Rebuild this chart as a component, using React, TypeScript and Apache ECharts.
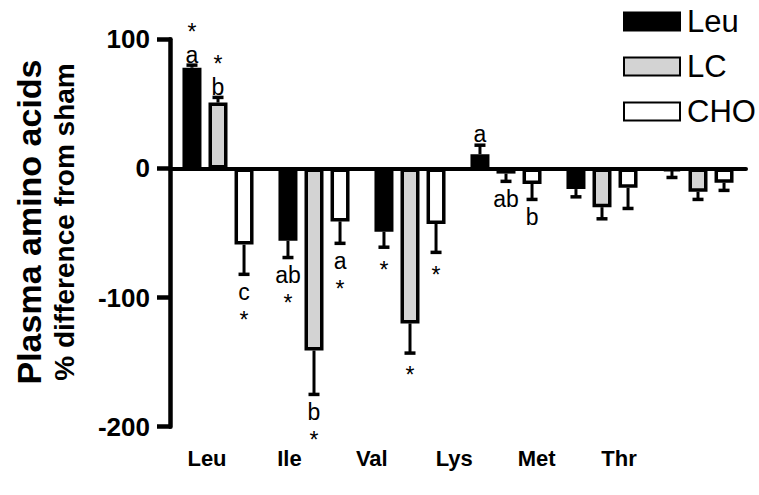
import React, { useEffect, useRef } from 'react';
import * as echarts from 'echarts';

const categories = ['Leu', 'Ile', 'Val', 'Lys', 'Met', 'Thr'];
const seriesNames = ['Leu', 'LC', 'CHO'];
const leuMean = [78, -56, -49, 11, -16, -2];
const leuErr = [2, 13, 12, 7, 6, 5];
const lcMean = [51, -141, -120, -4, -30, -18];
const lcErr = [4, 34, 23, 6, 9, 6];
const choMean = [-59, -41, -43, -12, -15, -11];
const choErr = [23, 17, 22, 12, 16, 6];
const leuLetters = ['a', 'ab', '', 'a', '', ''];
const lcLetters = ['b', 'b', '', 'ab', '', ''];
const choLetters = ['c', 'a', '', 'b', '', ''];
const leuStars = [1, 1, 1, 0, 0, 0];
const lcStars = [1, 1, 1, 0, 0, 0];
const choStars = [1, 1, 1, 0, 0, 0];
const yMin = -200;
const yMax = 100;
const yInterval = 100;
const yTitle1 = 'Plasma amino acids';
const yTitle2 = '% difference from sham';

const FONT = "'Liberation Sans', Arial, sans-serif";
const BAR_W = 19;
const BAR_GAP = 0.37;
const BAR_STEP = BAR_W * (1 + BAR_GAP);
const colors = ['#000000', '#d3d3d3', '#ffffff'];

function errSeries(k: number, mean: number[], err: number[], letters: string[], stars: number[]) {
  return {
    type: 'custom',
    xAxisIndex: 0,
    yAxisIndex: 0,
    z: 5,
    silent: true,
    data: mean.map((m, i) => [i, m, err[i]]),
    encode: { x: 0, y: 1 },
    renderItem: (params: any, api: any) => {
      const idx = params.dataIndex;
      const i = api.value(0);
      const m = api.value(1);
      const e = api.value(2);
      const dir = m >= 0 ? 1 : -1;
      const base = api.coord([i, m]);
      const end = api.coord([i, m + dir * e]);
      const x = base[0] + (k - 1) * BAR_STEP;
      const children: any[] = [
        { type: 'line', shape: { x1: x, y1: base[1], x2: x, y2: end[1] }, style: { stroke: '#000', lineWidth: 3 } },
        { type: 'line', shape: { x1: x - 5.5, y1: end[1], x2: x + 5.5, y2: end[1] }, style: { stroke: '#000', lineWidth: 3.5 } },
      ];
      const letter = letters[idx];
      const star = stars[idx];
      const ts = { fill: '#000', fontSize: 23, fontFamily: FONT, align: 'center', verticalAlign: 'middle' };
      if (dir > 0) {
        if (letter && star) {
          children.push({ type: 'text', x, y: end[1] - 10, style: { ...ts, lineHeight: 23, text: letter } });
          children.push({ type: 'text', x, y: end[1] - 33.5, style: { ...ts, lineHeight: 23, text: '*' } });
        } else if (letter) {
          children.push({ type: 'text', x, y: end[1] - 11, style: { ...ts, lineHeight: 23, text: letter } });
        } else if (star) {
          children.push({ type: 'text', x, y: end[1] - 10, style: { ...ts, lineHeight: 23, text: '*' } });
        }
      } else {
        if (letter && star) {
          children.push({ type: 'text', x, y: end[1] + 17.6, style: { ...ts, lineHeight: 23, text: letter } });
          children.push({ type: 'text', x, y: end[1] + 45.5, style: { ...ts, lineHeight: 23, text: '*' } });
        } else if (letter) {
          children.push({ type: 'text', x, y: end[1] + 17.6, style: { ...ts, lineHeight: 23, text: letter } });
        } else if (star) {
          children.push({ type: 'text', x, y: end[1] + 22.4, style: { ...ts, lineHeight: 23, text: '*' } });
        }
      }
      return { type: 'group', children };
    },
  };
}

function barSeries(k: number, data: number[]) {
  return {
    name: seriesNames[k],
    type: 'bar',
    xAxisIndex: 0,
    yAxisIndex: 0,
    data,
    barWidth: BAR_W,
    barGap: `${BAR_GAP * 100}%`,
    itemStyle: { color: colors[k], borderColor: '#000', borderWidth: 3.5 },
    z: 3,
  };
}

export default function App() {
  const ref = useRef<HTMLDivElement>(null);
  useEffect(() => {
    document.body.style.margin = '0';
    const chart = echarts.init(ref.current!, null, { renderer: 'svg' });
    chart.setOption({
      animation: false,
      backgroundColor: '#ffffff',
      grid: [
        { left: 170, right: 13, top: 39.3, bottom: 68.3 },
        { left: 165.8, width: 494.4, top: 39.3, bottom: 68.3 },
      ],
      legend: {
        orient: 'vertical',
        left: 618,
        top: 1,
        itemWidth: 56,
        itemHeight: 18,
        itemGap: 14,
        icon: 'rect',
        data: seriesNames,
        textStyle: { fontSize: 31, color: '#000', fontFamily: FONT, lineHeight: 30, padding: [0, 0, 0, 2] },
      },
      xAxis: [
        {
          type: 'category',
          gridIndex: 0,
          data: categories,
          axisLine: { onZero: true, lineStyle: { color: '#000', width: 4 } },
          axisTick: { show: false },
          axisLabel: { show: false },
          splitLine: { show: false },
        },
        {
          type: 'category',
          gridIndex: 1,
          data: categories,
          position: 'bottom',
          axisLine: { show: false },
          axisTick: { show: false },
          splitLine: { show: false },
          axisLabel: { fontSize: 22, fontWeight: 'bold', color: '#000', fontFamily: FONT, margin: 21 },
        },
      ],
      yAxis: [
        {
          type: 'value',
          gridIndex: 0,
          min: yMin,
          max: yMax,
          interval: yInterval,
          axisLine: { show: true, lineStyle: { color: '#000', width: 4.5 } },
          axisTick: { show: true, length: 13, lineStyle: { color: '#000', width: 4.5 } },
          axisLabel: { fontSize: 26, fontWeight: 'bold', color: '#000', fontFamily: FONT, margin: 20 },
          splitLine: { show: false },
        },
        { type: 'value', gridIndex: 1, min: yMin, max: yMax, show: false },
      ],
      graphic: [
        {
          type: 'text',
          x: 46.5,
          y: 222,
          rotation: Math.PI / 2,
          style: {
            text: `{a|${yTitle1}}\n{b|${yTitle2}}`,
            align: 'center',
            verticalAlign: 'middle',
            fill: '#000',
            rich: {
              a: { fontSize: 34, fontWeight: 'bold', fontFamily: FONT, lineHeight: 36, fill: '#000', align: 'center' },
              b: { fontSize: 28, fontWeight: 'bold', fontFamily: FONT, lineHeight: 36, fill: '#000', align: 'center' },
            },
          },
        },
      ],
      series: [
        barSeries(0, leuMean),
        barSeries(1, lcMean),
        barSeries(2, choMean),
        errSeries(0, leuMean, leuErr, leuLetters, leuStars),
        errSeries(1, lcMean, lcErr, lcLetters, lcStars),
        errSeries(2, choMean, choErr, choLetters, choStars),
      ],
    });
    return () => chart.dispose();
  }, []);
  return <div ref={ref} style={{ position: 'fixed', left: 0, top: 0, width: 759, height: 495 }} />;
}
